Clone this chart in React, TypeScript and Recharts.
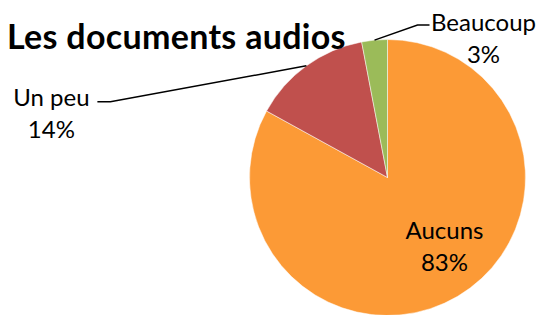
import { PieChart, Pie, Cell } from 'recharts';

const categories = ['Aucuns', 'Un peu', 'Beaucoup'];
const values = [83, 14, 3];
const colors = ['#FC9A36', '#C0504D', '#9BBB59'];

const chartData = categories.map((name, i) => ({ name, value: values[i] }));

const RADIAN = Math.PI / 180;
const FONT = 'Lato, "Open Sans", sans-serif';

// leader line layout for outside labels: elbow offset, end offset, text centre offset
const outside: Record<string, { elbow: [number, number]; end: [number, number]; text: [number, number] }> = {
  'Un peu': { elbow: [-196, 36], end: [-209, 36], text: [-255, 31] },
  Beaucoup: { elbow: [43, -15], end: [55, -15], text: [109, -19] },
};

const renderLabel = (props: any) => {
  const { cx, cy, midAngle, outerRadius, name, percent } = props;
  const pct = `${Math.round(percent * 100)}%`;
  const cos = Math.cos(-midAngle * RADIAN);
  const sin = Math.sin(-midAngle * RADIAN);

  if (!outside[name]) {
    const r = outerRadius * 0.64;
    const x = cx + r * cos + 12;
    const y = cy + r * sin - 8;
    return (
      <g>
        <text x={x} y={y - 16} textAnchor="middle" dominantBaseline="central" fill="#000" fontSize={24} fontFamily={FONT}>
          {name}
        </text>
        <text x={x} y={y + 16} textAnchor="middle" dominantBaseline="central" fill="#000" fontSize={24} fontFamily={FONT}>
          {pct}
        </text>
      </g>
    );
  }

  const o = outside[name];
  const sx = cx + outerRadius * cos;
  const sy = cy + outerRadius * sin;
  const ex = sx + o.elbow[0];
  const ey = sy + o.elbow[1];
  const fx = sx + o.end[0];
  const fy = sy + o.end[1];
  const tx = sx + o.text[0];
  const ty = sy + o.text[1];
  return (
    <g>
      <polyline points={`${sx},${sy} ${ex},${ey} ${fx},${fy}`} fill="none" stroke="#000" strokeWidth={1.5} />
      <text x={tx} y={ty} textAnchor="middle" dominantBaseline="central" fill="#000" fontSize={24} fontFamily={FONT}>
        {name}
      </text>
      <text x={tx} y={ty + 32} textAnchor="middle" dominantBaseline="central" fill="#000" fontSize={24} fontFamily={FONT}>
        {pct}
      </text>
    </g>
  );
};

export default function App() {
  return (
    <div style={{ position: 'fixed', left: 0, top: 0, width: 542, height: 315, background: '#fff', overflow: 'hidden' }}>
      <PieChart width={542} height={315} margin={{ top: 0, right: 0, bottom: 0, left: 0 }}>
        <Pie
          data={chartData}
          dataKey="value"
          nameKey="name"
          cx={387.5}
          cy={177.5}
          outerRadius={138}
          startAngle={90}
          endAngle={-270}
          stroke="#ffffff"
          strokeWidth={0.5}
          label={renderLabel}
          labelLine={false}
          isAnimationActive={false}
        >
          {chartData.map((entry, index) => (
            <Cell key={`cell-${index}`} fill={colors[index]} />
          ))}
        </Pie>
      </PieChart>
      <div
        style={{
          position: 'absolute',
          left: 7,
          top: 15,
          fontFamily: FONT,
          fontWeight: 700,
          fontSize: 34,
          lineHeight: '42px',
          letterSpacing: 0.3,
          color: '#000',
          whiteSpace: 'nowrap',
        }}
      >
        Les documents audios
      </div>
    </div>
  );
}
